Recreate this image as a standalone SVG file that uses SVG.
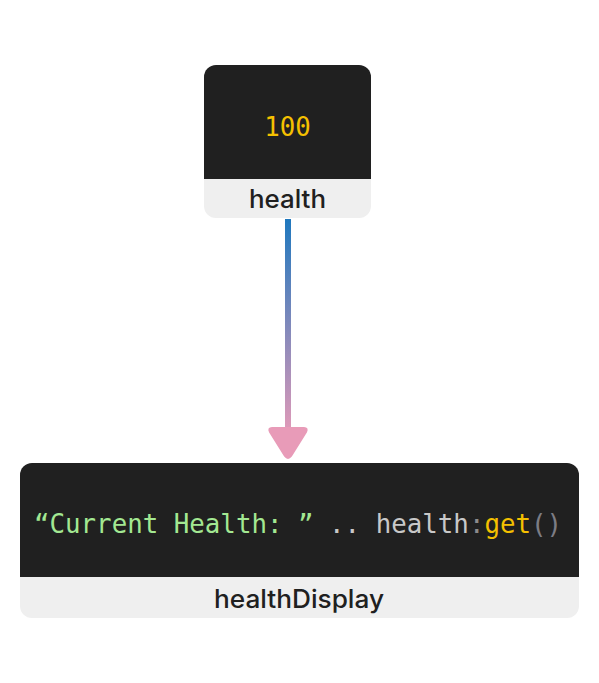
<svg xmlns="http://www.w3.org/2000/svg" width="599" height="683" viewBox="0 0 599 683">
<style>
.dark{fill:#202020}
.light{fill:#efefef}
.code{font-family:"DejaVu Sans Mono","Liberation Mono",monospace;font-size:25.8px}
.label{font-family:Inter,"Liberation Sans",sans-serif;font-weight:500;font-size:25px;fill:#202020}
</style>
<defs>
<linearGradient id="g" x1="0" y1="219" x2="0" y2="440" gradientUnits="userSpaceOnUse">
<stop offset="0" stop-color="#1f78be"/>
<stop offset="1" stop-color="#e89bb8"/>
</linearGradient>
<clipPath id="c1"><rect x="204" y="65" width="167" height="153" rx="12"/></clipPath>
<clipPath id="c2"><rect x="20" y="463" width="559" height="155" rx="12"/></clipPath>
</defs>
<g id="connectors">
<rect x="285" y="219" width="6" height="212" fill="url(#g)"/>
<path d="M272 428 L304 428 Q308 428 306 432 L291 456 Q288 460 285 456 L270 432 Q268 428 272 428 Z" fill="#e89bb8" stroke="#e89bb8" stroke-width="2" stroke-linejoin="round"/>
</g>
<g id="health">
<g clip-path="url(#c1)">
<rect class="dark" x="204" y="65" width="167" height="114"/>
<rect class="light" x="204" y="179" width="167" height="39"/>
</g>
<text class="code" x="287.5" y="136" text-anchor="middle" fill="#f5c000">100</text>
<text class="label" x="249" y="208" textLength="77" lengthAdjust="spacingAndGlyphs">health</text>
</g>
<g id="healthDisplay">
<g clip-path="url(#c2)">
<rect class="dark" x="20" y="463" width="559" height="114"/>
<rect class="light" x="20" y="577" width="559" height="41"/>
</g>
<text class="code" x="34" y="533"><tspan fill="#a3e892">“Current Health: ”</tspan><tspan fill="#c8c8c8"> .. health</tspan><tspan fill="#8c8c8c">:</tspan><tspan fill="#f5c000">get</tspan><tspan fill="#7c7c84">()</tspan></text>
<text class="label" x="214" y="608" textLength="170" lengthAdjust="spacingAndGlyphs">healthDisplay</text>
</g>
</svg>
